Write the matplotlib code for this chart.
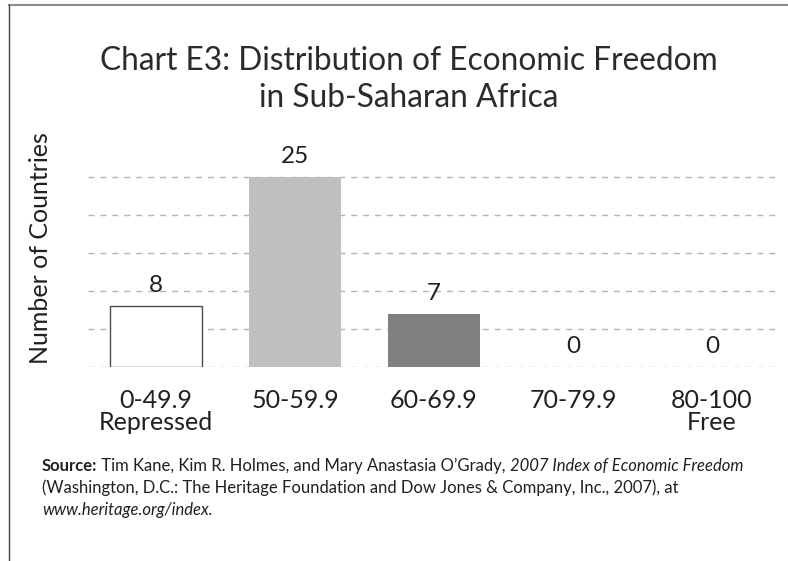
import matplotlib
matplotlib.use("Agg")
import matplotlib.pyplot as plt
from matplotlib.lines import Line2D

categories = ["0-49.9\nRepressed", "50-59.9", "60-69.9", "70-79.9", "80-100\nFree"]
countries = [8, 25, 7, 0, 0]
bar_colors = ["white", "#bfbfbf", "#808080", "#808080", "#808080"]
grid_levels = [0, 5, 10, 15, 20, 25]

plt.rcParams["font.family"] = ["Lato", "DejaVu Sans"]
text_color = "#231f20"

W, H = 788, 561
fig = plt.figure(figsize=(W / 100, H / 100), dpi=100)

# axes placed in pixel terms: baseline at y=367, 7.6 px per country
px_per_unit = 7.6
ymax = 28
ax = fig.add_axes([88 / W, (H - 367) / H, (778 - 88) / W, ymax * px_per_unit / H])

bars = ax.bar(range(len(countries)), countries, width=0.66, color=bar_colors,
              edgecolor="none", zorder=2)
bars[0].set_edgecolor("#4d4d4d")
bars[0].set_linewidth(1.0)

for i, v in enumerate(countries):
    ax.annotate(str(v), (i, v), xytext=(0, 10), textcoords="offset points",
                ha="center", va="baseline", fontsize=17.5, color=text_color,
                annotation_clip=False)

ax.set_xlim(-0.489, 4.475)
ax.set_ylim(0, ymax)
ax.set_yticks(grid_levels)
ax.yaxis.grid(True, color="#b3b3b3", linewidth=1.0, linestyle=(0, (4.3, 4.3)))
ax.set_axisbelow(True)
ax.tick_params(axis="y", length=0, labelleft=False)
ax.set_xticks(range(len(categories)))
ax.set_xticklabels(categories, fontsize=18, color=text_color, linespacing=0.93)
ax.tick_params(axis="x", length=0, pad=16)
for s in ax.spines.values():
    s.set_visible(False)

# y label
fig.text(41 / W, 1 - 248 / H, "Number of Countries", rotation=90, ha="center",
         va="center", fontsize=18, color=text_color)

# title
fig.text(409 / W, 1 - 70 / H, "Chart E3: Distribution of Economic Freedom",
         ha="center", va="baseline", fontsize=22.8, color="#2b2b2b")
fig.text(409 / W, 1 - 107 / H, "in Sub-Saharan Africa",
         ha="center", va="baseline", fontsize=22.8, color="#2b2b2b")

# frame lines
fig.add_artist(Line2D([9 / W, 1], [1 - 5 / H, 1 - 5 / H], color="#8c8c8c", lw=1.5))
fig.add_artist(Line2D([9 / W, 9 / W], [0, 1 - 5 / H], color="#444444", lw=1.0))

# source note, pieces placed one after another
src_lines = [
    [("Source:", "normal", "bold"),
     (" Tim Kane, Kim R. Holmes, and Mary Anastasia O\u2019Grady, ", "normal", "normal"),
     ("2007 Index of Economic Freedom", "italic", "normal")],
    [("(Washington, D.C.: The Heritage Foundation and Dow Jones & Company, Inc., 2007), at",
      "normal", "normal")],
    [("www.heritage.org/index.", "italic", "normal")],
]
baselines = [471, 493, 515]

fig.canvas.draw()
renderer = fig.canvas.get_renderer()
for pieces, base in zip(src_lines, baselines):
    x = 42
    for txt, style, weight in pieces:
        t = fig.text(x / W, 1 - base / H, txt, ha="left", va="baseline",
                     fontsize=12, style=style, weight=weight, color=text_color)
        x += t.get_window_extent(renderer).width

fig.savefig("out.png", dpi=100)
